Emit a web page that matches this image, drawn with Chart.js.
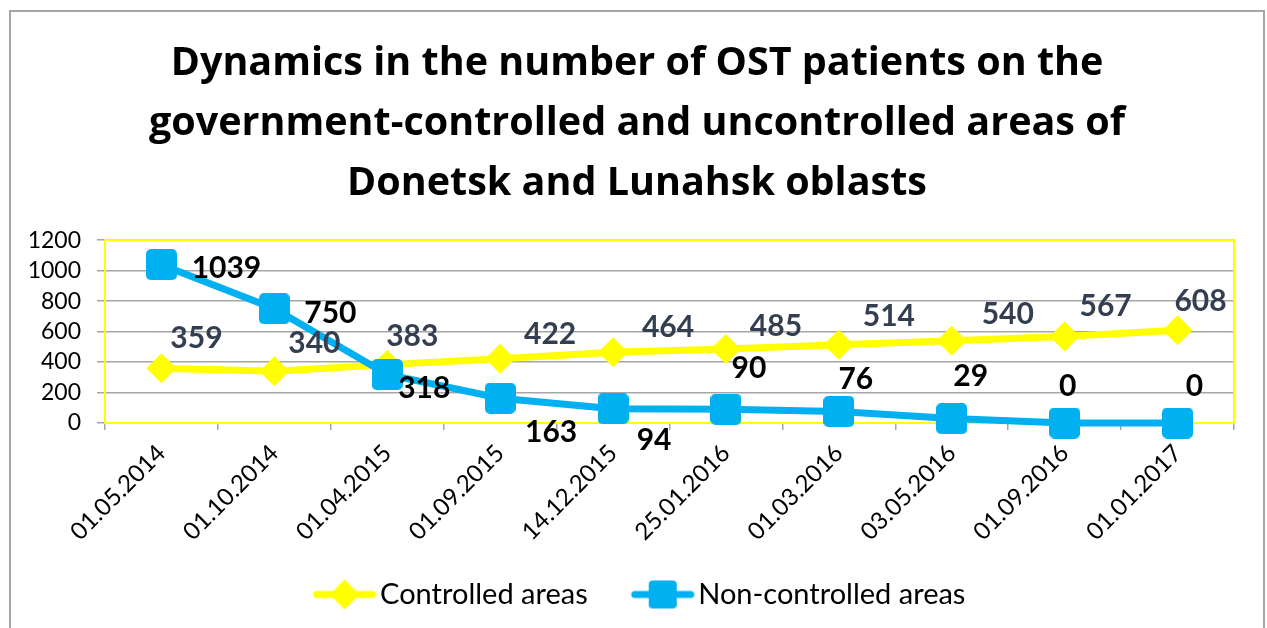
<!DOCTYPE html>
<html>
<head>
<meta charset="utf-8">
<script src="https://cdn.jsdelivr.net/npm/chart.js@4.4.0/dist/chart.umd.min.js"></script>
<style>
html, body { margin: 0; padding: 0; background: #fff; overflow: hidden; }
#frame { position: absolute; left: 9px; top: 10px; width: 1252px; height: 640px; border: 2px solid #a6a6a6; border-bottom: none; }
#frame canvas { display: block; }
</style>
</head>
<body>
<div id="frame"><canvas id="ostChart" width="1252" height="616" style="width:1252px;height:616px"></canvas></div>
<script>
const dates = ['01.05.2014', '01.10.2014', '01.04.2015', '01.09.2015', '14.12.2015',
               '25.01.2016', '01.03.2016', '03.05.2016', '01.09.2016', '01.01.2017'];
const controlled = [359, 340, 383, 422, 464, 485, 514, 540, 567, 608];
const nonControlled = [1039, 750, 318, 163, 94, 90, 76, 29, 0, 0];
const yTicks = [0, 200, 400, 600, 800, 1000, 1200];

// where the value labels sit relative to their point (px), as in the original
const controlledShift = [[35,-30],[40,-28],[25,-28],[50,-24],[55,-25],[50,-23],[50,-28],[56,-26],[41,-30],[23,-29]];
const nonControlledShift = [[65,4],[56,5],[37,14],[51,34],[41,32],[23,-41],[17,-32],[19,-42],[3,-37],[17,-37]];

const YELLOW = '#ffff00';
const BLUE = '#00b0f0';
const FONT = 'Lato, "Open Sans", sans-serif';

function roundedSquare(color, size, r) {
    const c = document.createElement('canvas');
    c.width = size; c.height = size;
    const g = c.getContext('2d');
    g.fillStyle = color;
    g.beginPath();
    g.roundRect(0, 0, size, size, r);
    g.fill();
    return c;
}

function legendMark(color, shape) {
    // transparent left margin keeps the line clear of the previous item
    const c = document.createElement('canvas');
    c.width = 108; c.height = 34;
    const g = c.getContext('2d');
    g.strokeStyle = color;
    g.fillStyle = color;
    g.lineWidth = 7;
    g.lineCap = 'round';
    g.beginPath(); g.moveTo(48, 17); g.lineTo(104, 17); g.stroke();
    const cx = 76;
    g.beginPath();
    if (shape === 'diamond') {
        g.moveTo(cx, 2); g.lineTo(cx + 15, 17); g.lineTo(cx, 32); g.lineTo(cx - 15, 17); g.closePath();
    } else {
        g.roundRect(cx - 14, 3, 28, 28, 4);
    }
    g.fill();
    return c;
}

const blueSquare = roundedSquare(BLUE, 31, 5);

// title is centred on the whole frame, not on the padded area
const titleSpan = {
    id: 'titleSpan',
    afterLayout(chart) {
        if (chart.titleBlock) chart.titleBlock.right = chart.width;
    }
};

const plotBorder = {
    id: 'plotBorder',
    beforeDatasetsDraw(chart) {
        const a = chart.chartArea, ctx = chart.ctx;
        ctx.save();
        ctx.strokeStyle = YELLOW;
        ctx.lineWidth = 2;
        ctx.strokeRect(a.left, a.top, a.right - a.left, a.bottom - a.top);
        ctx.restore();
    }
};

const valueLabels = {
    id: 'valueLabels',
    afterDatasetsDraw(chart) {
        const ctx = chart.ctx;
        const conf = [
            { shift: controlledShift, color: '#333f50' },
            { shift: nonControlledShift, color: '#000000' }
        ];
        ctx.save();
        ctx.font = 'bold 30px ' + FONT;
        ctx.textAlign = 'center';
        ctx.textBaseline = 'middle';
        chart.data.datasets.forEach((ds, di) => {
            const meta = chart.getDatasetMeta(di);
            ctx.fillStyle = conf[di].color;
            meta.data.forEach((pt, i) => {
                const s = conf[di].shift[i];
                ctx.fillText(String(ds.data[i]), pt.x + s[0], pt.y + s[1]);
            });
        });
        ctx.restore();
    }
};

const ctx = document.getElementById('ostChart').getContext('2d');

const config = {
    type: 'line',
    data: {
        labels: dates,
        datasets: [{
            label: 'Controlled areas',
            data: controlled,
            borderColor: YELLOW,
            backgroundColor: YELLOW,
            borderWidth: 7,
            pointStyle: 'rectRot',
            pointRadius: 15,
            pointBorderWidth: 0,
            pointBackgroundColor: YELLOW,
            tension: 0,
            clip: false,
            order: 1
        }, {
            label: 'Non-controlled areas',
            data: nonControlled,
            borderColor: BLUE,
            backgroundColor: BLUE,
            borderWidth: 7,
            pointStyle: blueSquare,
            pointRadius: 15,
            tension: 0,
            clip: false,
            order: 0
        }]
    },
    options: {
        responsive: false,
        animation: false,
        layout: { padding: { left: 0, right: 29, top: 0, bottom: 9 } },
        scales: {
            x: {
                offset: true,
                grid: { offset: true, drawOnChartArea: false, tickLength: 7, color: '#a6a6a6', lineWidth: 1.5 },
                border: { display: false },
                ticks: {
                    autoSkip: false,
                    maxRotation: 45,
                    minRotation: 45,
                    color: '#000',
                    font: { family: FONT, size: 24 },
                    padding: 9
                },
                afterFit(scale) { scale.height = 147; }
            },
            y: {
                min: 0,
                max: 1200,
                afterBuildTicks(scale) { scale.ticks = yTicks.map(v => ({ value: v })); },
                grid: { color: '#a6a6a6', lineWidth: 1.5, tickLength: 8 },
                border: { display: false },
                ticks: {
                    autoSkip: false,
                    color: '#000',
                    font: { family: FONT, size: 23 },
                    padding: 16,
                    callback: v => String(v)
                },
                afterFit(scale) { scale.width = 94; }
            }
        },
        plugins: {
            title: {
                display: true,
                text: ['Dynamics in the number of OST patients on the',
                       'government-controlled and uncontrolled areas of',
                       'Donetsk and Lunahsk oblasts'],
                color: '#000',
                font: { family: '"Open Sans", Lato, sans-serif', size: 39.5, weight: 'bold', lineHeight: 1.52 },
                padding: { top: 22, bottom: 26 }
            },
            legend: {
                position: 'bottom',
                labels: {
                    usePointStyle: true,
                    pointStyleWidth: 86,
                    color: '#000',
                    font: { family: FONT, size: 29 },
                    padding: 10,
                    generateLabels(chart) {
                        return chart.data.datasets.map((ds, i) => ({
                            text: ds.label,
                            datasetIndex: i,
                            pointStyle: legendMark(ds.borderColor, i === 0 ? 'diamond' : 'square'),
                            fillStyle: ds.borderColor,
                            strokeStyle: ds.borderColor,
                            lineWidth: 0,
                            fontColor: '#000',
                            hidden: false
                        }));
                    }
                }
            },
            tooltip: { enabled: false }
        }
    },
    plugins: [titleSpan, plotBorder, valueLabels]
};

const ostChart = new Chart(ctx, config);
</script>
</body>
</html>
